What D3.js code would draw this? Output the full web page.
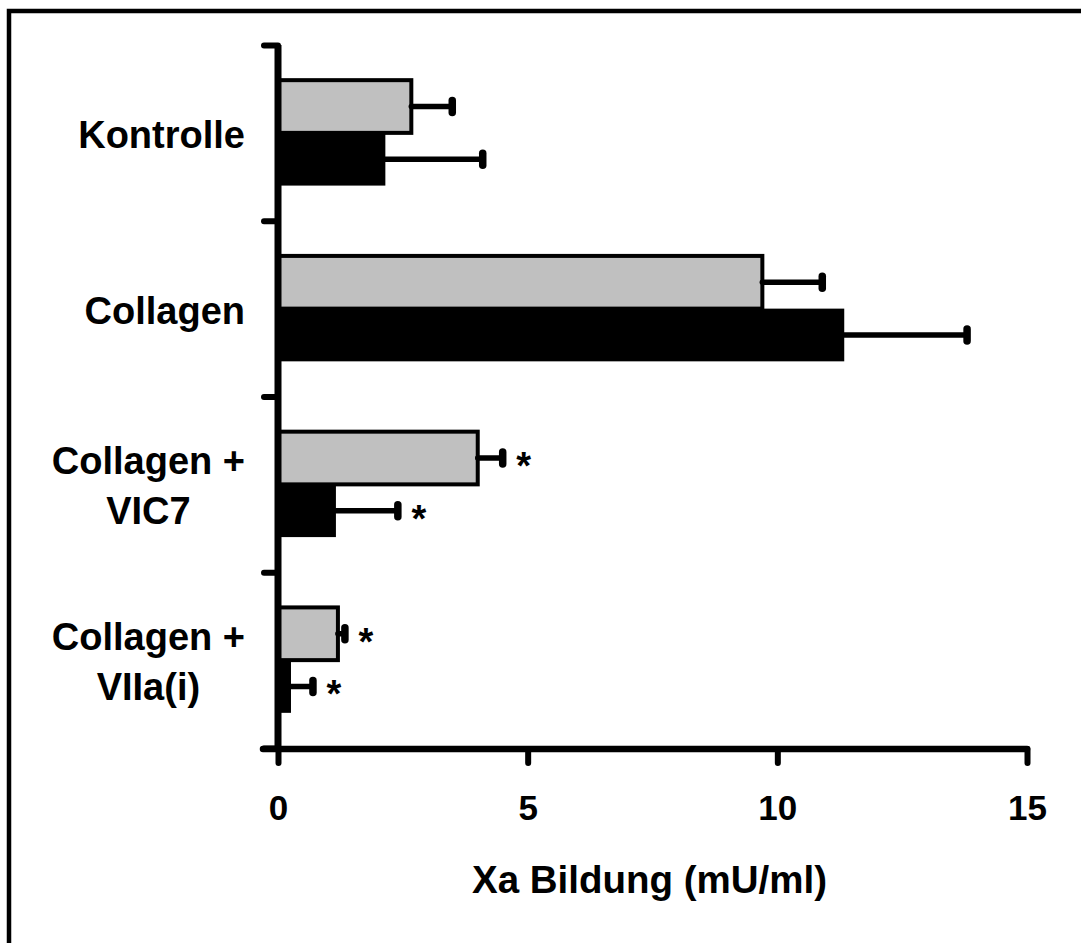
<!DOCTYPE html>
<html>
<head>
<meta charset="utf-8">
<script src="https://cdn.jsdelivr.net/npm/d3@7"></script>
<style>
  html, body { margin: 0; padding: 0; background: #fff; }
  svg { display: block; }
  text { font-family: "Liberation Sans", Arial, sans-serif; font-weight: bold; fill: #000; }
</style>
</head>
<body>
<svg id="chart" width="1081" height="943"></svg>
<script>
// ---- data ----
const categories = ["Kontrolle", "Collagen", "Collagen +\nVIC7", "Collagen +\nVIIa(i)"];
const series = ["grau", "schwarz"];
const grayValues = [2.67, 9.7, 4.0, 1.2];
const grayErrors = [0.82, 1.2, 0.5, 0.14];
const grayStars = [false, false, true, true];
const blackValues = [2.15, 11.34, 1.16, 0.26];
const blackErrors = [1.95, 2.46, 1.24, 0.44];
const blackStars = [false, false, true, true];
const xTicks = [0, 5, 10, 15];
const xTitle = "Xa Bildung (mU/ml)";

const svg = d3.select("#chart");

// frame (left + top edges visible)
svg.append("path")
  .attr("d", "M9,943 L9,11 L1081,11")
  .attr("fill", "none").attr("stroke", "#000").attr("stroke-width", 4.5);

const x = d3.scaleLinear().domain([0, 15]).range([278, 1027]);
const y = d3.scaleBand().domain(categories).range([45, 748]).padding(0);
const sub = d3.scaleBand().domain(series).range([0, y.bandwidth()]).paddingInner(0).paddingOuter(0.667);
const yIdx = d3.scaleLinear().domain([0, categories.length]).range([45, 748]);

const rows = categories.map((c, i) => ([
  { cat: c, s: "grau", v: grayValues[i], e: grayErrors[i], star: grayStars[i] },
  { cat: c, s: "schwarz", v: blackValues[i], e: blackErrors[i], star: blackStars[i] }
])).flat();

// bars
const g = svg.append("g");
g.selectAll("rect.bar").data(rows).join("rect")
  .attr("class", "bar")
  .attr("x", x(0))
  .attr("y", d => y(d.cat) + sub(d.s))
  .attr("width", d => x(d.v) - x(0))
  .attr("height", sub.bandwidth())
  .attr("fill", d => d.s === "grau" ? "#c0c0c0" : "#000")
  .attr("stroke", "#000")
  .attr("stroke-width", d => d.s === "grau" ? 4 : 0);

// error bars
const cy = d => y(d.cat) + sub(d.s) + sub.bandwidth() / 2;
g.selectAll("line.err").data(rows).join("line")
  .attr("x1", d => x(d.v)).attr("x2", d => x(d.v + d.e))
  .attr("y1", cy).attr("y2", cy)
  .attr("stroke", "#000").attr("stroke-width", 5.5).attr("stroke-linecap", "round");
g.selectAll("line.cap").data(rows).join("line")
  .attr("x1", d => x(d.v + d.e)).attr("x2", d => x(d.v + d.e))
  .attr("y1", d => cy(d) - 6).attr("y2", d => cy(d) + 6)
  .attr("stroke", "#000").attr("stroke-width", 7.5).attr("stroke-linecap", "round");

// significance stars
g.selectAll("text.star").data(rows.filter(d => d.star)).join("text")
  .attr("x", d => x(d.v + d.e) + 21)
  .attr("y", d => cy(d) + 21)
  .attr("text-anchor", "middle")
  .attr("font-size", 38)
  .text("*");

// x axis
const xAxis = svg.append("g").attr("transform", "translate(0,749)")
  .call(d3.axisBottom(x).tickValues(xTicks).tickSize(14).tickPadding(32).tickSizeOuter(0));
xAxis.select(".domain").remove();
xAxis.append("line").attr("x1", 263).attr("x2", x(15)).attr("y1", 0).attr("y2", 0)
  .attr("stroke", "#000").attr("stroke-width", 6.5).attr("stroke-linecap", "round");
xAxis.selectAll(".tick line").attr("stroke", "#000").attr("stroke-width", 6).attr("stroke-linecap", "round");
xAxis.selectAll(".tick text").attr("font-size", 35).attr("font-family", "Liberation Sans, Arial, sans-serif").attr("font-weight", "bold").attr("fill", "#000");

// y axis
const yAxis = svg.append("g").attr("transform", `translate(${x(0)},0)`)
  .call(d3.axisLeft(yIdx).tickValues(d3.range(categories.length + 1)).tickFormat("").tickSize(14).tickSizeOuter(0));
yAxis.select(".domain").attr("stroke", "#000").attr("stroke-width", 7)
  .attr("d", `M0,${yIdx(0)}V${yIdx(categories.length) + 3}`);
yAxis.selectAll(".tick line").attr("stroke", "#000").attr("stroke-width", 6).attr("stroke-linecap", "round");

// category labels (right-aligned block, lines centered)
const labelRight = 245;
categories.forEach(c => {
  const lines = c.split("\n");
  const t = svg.append("text").attr("font-size", 38).attr("text-anchor", "middle");
  const lh = 50;
  const mid = y(c) + y.bandwidth() / 2;
  const startY = mid - (lines.length - 1) * lh / 2 + 15;
  lines.forEach((l, k) => t.append("tspan").attr("x", 0).attr("y", startY + k * lh).text(l));
  const w = t.node().getBBox().width;
  t.selectAll("tspan").attr("x", labelRight - w / 2);
});

// x title
svg.append("text").attr("x", (x(0) + x(15)) / 2 - 3).attr("y", 893)
  .attr("text-anchor", "middle").attr("font-size", 38.5).text(xTitle);
</script>
</body>
</html>
